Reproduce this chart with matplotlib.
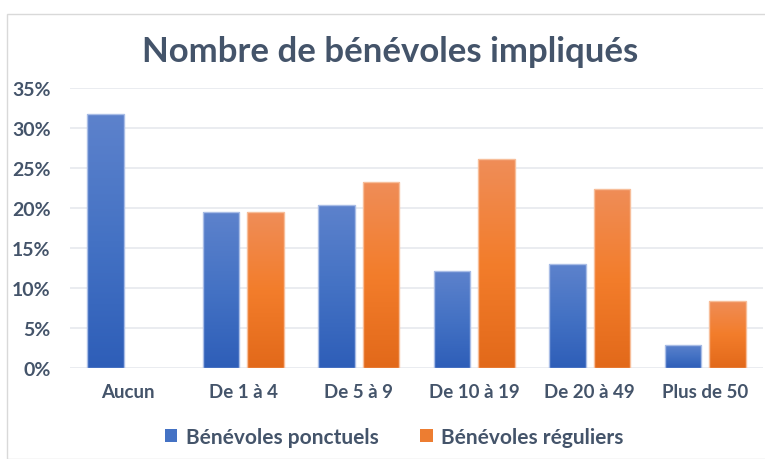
import matplotlib.pyplot as plt
import numpy as np
from matplotlib.colors import LinearSegmentedColormap
from matplotlib.patches import Patch, Rectangle

categories = ["Aucun", "De 1 à 4", "De 5 à 9", "De 10 à 19", "De 20 à 49", "Plus de 50"]
ponctuels = [31.7, 19.5, 20.4, 12.1, 13.0, 2.9]
reguliers = [0.0, 19.5, 23.3, 26.1, 22.4, 8.4]
yticks = [0, 5, 10, 15, 20, 25, 30, 35]

TEXT = "#44546A"
plt.rcParams["font.family"] = ["Lato", "DejaVu Sans"]

fig = plt.figure(figsize=(7.65, 4.6), dpi=100)
fig.patches.append(Rectangle((7 / 765, 0), 1, 1 - 15 / 460, transform=fig.transFigure,
                             fill=False, edgecolor="#D9D9D9", linewidth=1))
ax = fig.add_axes([70 / 765, 1 - 369 / 460, 693 / 765, 280 / 460])

blue_cmap = LinearSegmentedColormap.from_list("b", ["#2E5EB8", "#4472C4", "#5D82CC"])
orange_cmap = LinearSegmentedColormap.from_list("o", ["#E2691A", "#F37D2B", "#EF8D58"])
grad = np.linspace(0, 1, 256).reshape(-1, 1)

x = np.arange(len(categories))
width = 0.316
offset = 0.193


def gradient_bars(xs, values, cmap, edge):
    bars = ax.bar(xs, values, width, color="none", edgecolor=edge, linewidth=1, zorder=3)
    for bar in bars:
        if bar.get_height() <= 0:
            bar.set_visible(False)
            continue
        x0, y0 = bar.get_x(), bar.get_y()
        im = ax.imshow(grad, cmap=cmap, origin="lower", aspect="auto", zorder=2,
                       extent=[x0, x0 + bar.get_width(), y0, y0 + bar.get_height()])
        im.set_clip_path(bar)


gradient_bars(x - offset, ponctuels, blue_cmap, "#A9BDE6")
gradient_bars(x + offset, reguliers, orange_cmap, "#F7BE9A")

ax.set_xlim(-0.5, len(categories) - 0.5)
ax.set_ylim(0, 35)
ax.set_yticks(yticks)
ax.set_yticklabels([f"{t}%" for t in yticks])
ax.set_xticks(x)
ax.set_xticklabels(categories)
ax.tick_params(length=0, labelcolor=TEXT)
ax.tick_params(axis="x", pad=11, labelsize=13.5)
ax.tick_params(axis="y", pad=14, labelsize=14)
for lab in ax.get_xticklabels() + ax.get_yticklabels():
    lab.set_fontweight("bold")
ax.grid(axis="y", color="#E6E9EE", linewidth=1.2, zorder=0)
for s in ax.spines.values():
    s.set_visible(False)

fig.text(390 / 765, 1 - 52 / 460, "Nombre de bénévoles impliqués", ha="center", va="center",
         fontsize=25, fontweight="bold", color=TEXT)

handles = [Patch(facecolor="#4472C4", label="Bénévoles ponctuels"),
           Patch(facecolor="#ED7D31", label="Bénévoles réguliers")]
leg = fig.legend(handles=handles, loc="center", bbox_to_anchor=(394 / 765, 1 - 438 / 460),
                 ncol=2, frameon=False, handlelength=0.6, handleheight=0.6,
                 handletextpad=0.4, columnspacing=2.0,
                 prop={"size": 15, "weight": "bold"})
for t in leg.get_texts():
    t.set_color(TEXT)

fig.savefig("out.png", dpi=100)
